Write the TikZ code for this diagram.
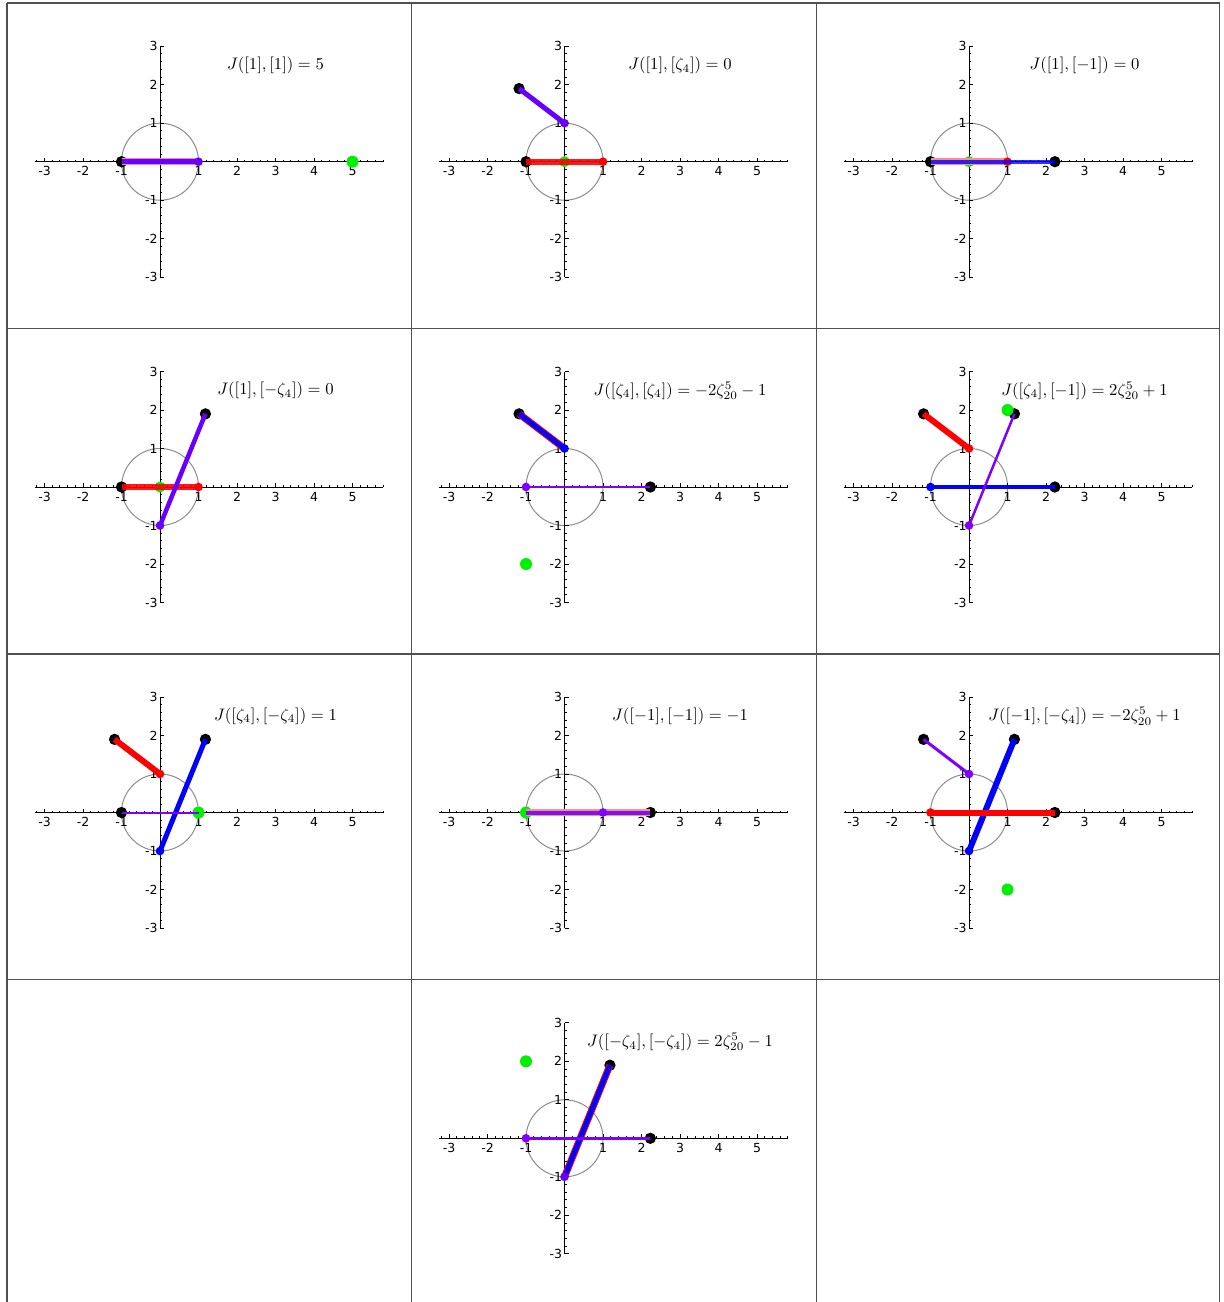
\documentclass[tikz,border=0pt]{standalone}
\usepackage{fontspec}
\usepackage{amsmath}
\usetikzlibrary{positioning}
\newfontfamily\tickfont{DejaVu Sans}
\definecolor{jRed}{RGB}{255,0,0}
\definecolor{jBlue}{RGB}{0,0,255}
\definecolor{jViolet}{RGB}{104,0,255}
\definecolor{jPurple}{RGB}{128,0,255}
\definecolor{jGreen}{RGB}{0,240,0}
\definecolor{jGrid}{RGB}{80,80,80}
\definecolor{jCircle}{RGB}{140,140,140}

\begin{document}
\begin{tikzpicture}[
  x=0.6pt, y=-0.6pt,
  rule/.style={draw=jGrid, line width=0.8pt},
  xlab/.style={font=\tickfont\fontsize{7.5pt}{8pt}\selectfont, anchor=north, inner sep=0pt, yshift=-2.8pt},
  ylab/.style={font=\tickfont\fontsize{7.5pt}{8pt}\selectfont, anchor=east, inner sep=0pt, xshift=-1.2pt},
  jlabel/.style={font=\normalsize, inner sep=0pt},
  seg/.style={line cap=butt},
  plane/.pic={
    \draw[jCircle, line width=0.6pt] (0,0) circle (1);
    \draw[line width=0.6pt] (-3.25,0) -- (5.8,0);
    \draw[line width=0.6pt] (0,-3) -- (0,3);
    \foreach \k in {-16,...,29} \draw[line width=0.5pt] (\k/5,0) -- ++(0,1.2pt);
    \foreach \k in {-3,...,5} \draw[line width=0.6pt] (\k,0) -- ++(0,2.4pt);
    \foreach \k in {-15,...,15} \draw[line width=0.5pt] (0,\k/5) -- ++(1.2pt,0);
    \foreach \k in {-3,...,3} \draw[line width=0.6pt] (0,\k) -- ++(2.4pt,0);
    \foreach \k in {-3,-2,-1,1,2,3,4,5} \node[xlab] (xl\k) at (\k,0) {\k};
    \foreach \k in {-3,-2,-1,1,2,3} \node[ylab] (yl\k) at (0,\k) {\k};
    \coordinate (o) at (0,0);
    \coordinate (p1) at (1,0);
    \coordinate (m1) at (-1,0);
    \coordinate (pi) at (0,1);
    \coordinate (mi) at (0,-1);
    \coordinate (b1) at (-1.18,1.9);
    \coordinate (b2) at (1.18,1.9);
    \coordinate (b3) at (2.23,0);
  },
]
\useasboundingbox (0,0) rectangle (1223,1302);
% table rules
\foreach \gx in {7,411.5,816.5,1219.5} \draw[rule] (\gx,3) -- (\gx,1302);
\foreach \gy in {3,328.5,654,979.5} \draw[rule] (7,\gy) -- (1219.5,\gy);

% J([1],[1])
\begin{scope}[shift={(160,161.7)}, x=23.1pt, y=23.1pt]
  \pic {plane};
  \fill (m1) circle (3.4pt);
  \fill[jGreen] (5,0) circle (3.6pt);
  \draw[seg, jRed!45, line width=4.5pt] (p1) -- (m1);
  \draw[seg, jViolet, line width=3pt] (p1) -- (m1);
  \fill[jViolet] (p1) circle (2.6pt);
  \node[jlabel] (tA) at (3,2.5) {$J([1],[1])=5$};
\end{scope}

% J([1],[zeta4])
\begin{scope}[shift={(564.5,161.7)}, x=23.1pt, y=23.1pt]
  \pic {plane};
  \fill (m1) circle (3.4pt);
  \fill (b1) circle (3.4pt);
  \fill[jGreen] (o) circle (3.3pt);
  \draw[seg, jRed, opacity=0.9, line width=3.6pt] (p1) -- (m1);
  \draw[seg, jViolet, line width=3pt] (pi) -- (b1);
  \fill[jRed] (p1) circle (2.6pt);
  \fill[jViolet] (pi) circle (2.6pt);
  \node[jlabel] (tB) at (3,2.5) {$J([1],[\zeta_4])=0$};
\end{scope}

% J([1],[-1])
\begin{scope}[shift={(969,161.7)}, x=23.1pt, y=23.1pt]
  \pic {plane};
  \fill (m1) circle (3.4pt);
  \fill (b3) circle (3.4pt);
  \fill[jGreen] (o) circle (3.3pt);
  \draw[seg, jRed!45, line width=4.2pt] (p1) -- (m1);
  \fill[jRed] (p1) circle (2.6pt);
  \draw[seg, jBlue, opacity=0.8, line width=2.4pt] (m1) -- (b3);
  \node[jlabel] (tC) at (3,2.5) {$J([1],[-1])=0$};
\end{scope}

% J([1],[-zeta4])
\begin{scope}[shift={(160,487)}, x=23.1pt, y=23.1pt]
  \pic {plane};
  \fill (m1) circle (3.4pt);
  \fill (b2) circle (3.4pt);
  \fill[jGreen] (o) circle (3.3pt);
  \draw[seg, jRed, opacity=0.9, line width=3.6pt] (p1) -- (m1);
  \draw[seg, jViolet, line width=2.7pt] (mi) -- (b2);
  \fill[jRed] (p1) circle (2.6pt);
  \fill[jViolet] (mi) circle (2.6pt);
  \node[jlabel] (tD) at (3,2.5) {$J([1],[-\zeta_4])=0$};
\end{scope}

% J([zeta4],[zeta4])
\begin{scope}[shift={(564.5,487)}, x=23.1pt, y=23.1pt]
  \pic {plane};
  \fill (b1) circle (3.4pt);
  \fill (b3) circle (3.4pt);
  \fill[jGreen] (-1,-2) circle (3.6pt);
  \draw[seg, jRed, line width=4.2pt] (pi) -- (b1);
  \draw[seg, jBlue, line width=3pt] (pi) -- (b1);
  \draw[seg, jPurple, line width=1.5pt] (m1) -- (b3);
  \fill[jBlue] (pi) circle (2.6pt);
  \fill[jPurple] (m1) circle (2.6pt);
  \node[jlabel] (tE) at (3,2.5) {$J([\zeta_4],[\zeta_4])=-2\zeta_{20}^5-1$};
\end{scope}

% J([zeta4],[-1])
\begin{scope}[shift={(969,487)}, x=23.1pt, y=23.1pt]
  \pic {plane};
  \fill (b1) circle (3.4pt);
  \fill (b2) circle (3.4pt);
  \fill (b3) circle (3.4pt);
  \fill[jGreen] (1,2) circle (3.6pt);
  \draw[seg, jRed, line width=3.6pt] (pi) -- (b1);
  \draw[seg, jBlue, line width=2.4pt] (m1) -- (b3);
  \draw[seg, jPurple, line width=1.5pt] (mi) -- (b2);
  \fill[jRed] (pi) circle (2.6pt);
  \fill[jBlue] (m1) circle (2.6pt);
  \fill[jPurple] (mi) circle (2.6pt);
  \node[jlabel] (tF) at (3,2.5) {$J([\zeta_4],[-1])=2\zeta_{20}^5+1$};
\end{scope}

% J([zeta4],[-zeta4])
\begin{scope}[shift={(160,812.5)}, x=23.1pt, y=23.1pt]
  \pic {plane};
  \fill (b1) circle (3.4pt);
  \fill (b2) circle (3.4pt);
  \fill (m1) circle (3.4pt);
  \fill[jGreen] (p1) circle (3.6pt);
  \draw[seg, jRed, line width=3.6pt] (pi) -- (b1);
  \draw[seg, jBlue, line width=3pt] (mi) -- (b2);
  \draw[seg, jPurple, line width=1.2pt] (m1) -- (p1);
  \fill[jRed] (pi) circle (2.6pt);
  \fill[jBlue] (mi) circle (2.6pt);
  \node[jlabel] (tG) at (3,2.5) {$J([\zeta_4],[-\zeta_4])=1$};
\end{scope}

% J([-1],[-1])
\begin{scope}[shift={(564.5,812.5)}, x=23.1pt, y=23.1pt]
  \pic {plane};
  \fill (b3) circle (3.4pt);
  \fill[jGreen] (m1) circle (3.6pt);
  \draw[seg, jRed!45, line width=4.2pt] (m1) -- (b3);
  \draw[seg, jViolet, opacity=0.85, line width=2.4pt] (m1) -- (b3);
  \fill[jPurple] (p1) circle (2.6pt);
  \node[jlabel] (tH) at (3,2.5) {$J([-1],[-1])=-1$};
\end{scope}

% J([-1],[-zeta4])
\begin{scope}[shift={(969,812.5)}, x=23.1pt, y=23.1pt]
  \pic {plane};
  \fill (b1) circle (3.4pt);
  \fill (b2) circle (3.4pt);
  \fill (b3) circle (3.4pt);
  \fill[jGreen] (1,-2) circle (3.6pt);
  \draw[seg, jPurple, line width=1.8pt] (pi) -- (b1);
  \draw[seg, jBlue, line width=3.6pt] (mi) -- (b2);
  \draw[seg, jRed, line width=3.6pt] (m1) -- (b3);
  \fill[jPurple] (pi) circle (2.6pt);
  \fill[jBlue] (mi) circle (2.6pt);
  \fill[jRed] (m1) circle (2.6pt);
  \node[jlabel] (tI) at (3,2.5) {$J([-1],[-\zeta_4])=-2\zeta_{20}^5+1$};
\end{scope}

% J([-zeta4],[-zeta4])
\begin{scope}[shift={(564.5,1138.3)}, x=23.1pt, y=23.1pt]
  \pic {plane};
  \fill (b2) circle (3.4pt);
  \fill (b3) circle (3.4pt);
  \fill[jGreen] (-1,2) circle (3.6pt);
  \draw[seg, jRed, line width=4.2pt] (mi) -- (b2);
  \draw[seg, jBlue, line width=3pt] (mi) -- (b2);
  \draw[seg, jPurple, line width=1.5pt] (m1) -- (b3);
  \fill[jViolet] (mi) circle (2.6pt);
  \fill[jPurple] (m1) circle (2.6pt);
  \node[jlabel] (tK) at (3,2.5) {$J([-\zeta_4],[-\zeta_4])=2\zeta_{20}^5-1$};
\end{scope}
\end{tikzpicture}
\end{document}
